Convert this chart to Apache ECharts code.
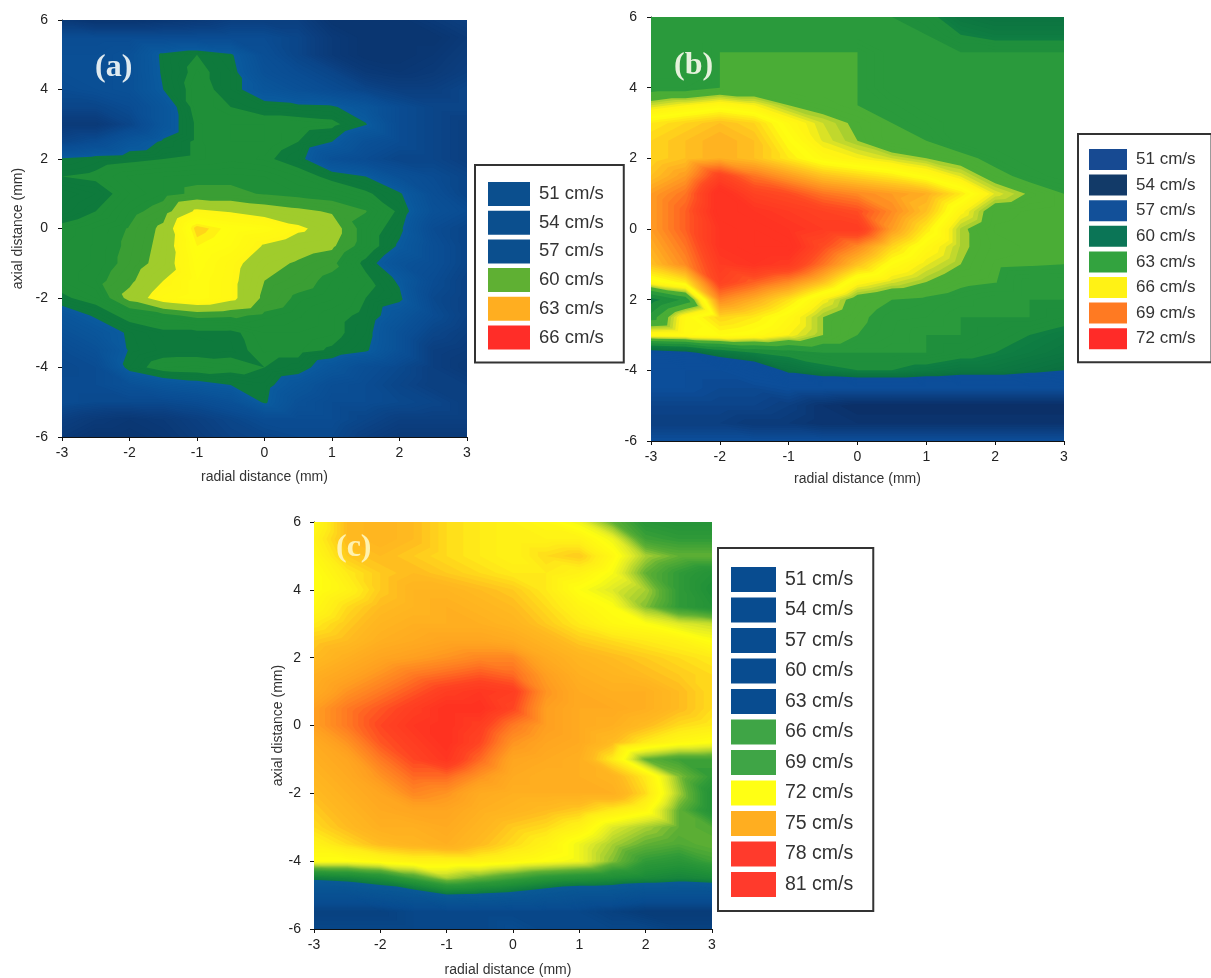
<!DOCTYPE html>
<html><head><meta charset="utf-8">
<style>html,body{margin:0;padding:0;background:#fff}#c{width:1211px;height:978px}</style>
<script src="https://cdn.jsdelivr.net/npm/echarts@6/dist/echarts.min.js"></script>
</head><body><div id="c"></div>
<script>
const radial = [-3,-2.5,-2,-1.5,-1,-0.5,0,0.5,1,1.5,2,2.5,3];
const axial = [6,5.5,5,4.5,4,3.5,3,2.5,2,1.5,1,0.5,0,-0.5,-1,-1.5,-2,-2.5,-3,-3.5,-4,-4.5,-5,-5.5,-6];

const speedA = [
[51,50,50,50.5,51,52,52,52,50,50,50,51,52],
[54,54,54,54,54,54,54,53,51,50,50,50,51],
[54.5,54.5,55,57.3,58,57.2,54.5,53,51,50,50,50.5,51.5],
[54.5,54.5,55,57.2,58.3,57.5,55,54,53,51,50.5,51,52],
[54,54.5,55,57,58.5,57.5,56,55,54,53,52,52,53],
[53,53,54,56,58.5,58,57.5,57.3,57.2,56,54,53,53],
[51,51,53,56,58.2,58.5,58.5,58.5,58.3,57.1,54,53,52],
[53,54,56,57.2,58.2,58.5,58.5,58,57,55,54,53,52],
[57.2,57.6,57.8,58,58.2,58.4,58.2,57.5,55,54,53,53,52],
[58,58.2,58.8,59,59.1,59.1,59,58.5,57.7,57,55,54,53],
[57,57.5,58.5,59,59.4,59.4,59.2,59,58.8,58.2,57.2,54.5,53],
[57.3,58,59,59.6,61.2,60.9,60.5,60.2,59.9,59.3,57.8,55,54],
[58.3,58.8,59.3,60.2,63,62.3,62,61.2,60.5,58.8,57.3,54,53],
[58.5,58.8,59.4,60.3,62.5,62,60.9,60.4,60.15,58.8,56.8,54.5,53],
[58.5,58.8,59.5,60.4,62.2,61.4,60.3,59.9,59.5,57.7,55.5,54.5,53],
[58.5,59,59.8,61,62,61.3,60,59.6,59,58.3,56.8,54,52.5],
[57.8,58.5,60.3,61.6,62,61.3,59.8,59.1,58.8,58,57.3,53.5,52.5],
[56,57.2,58.5,59,59.5,59.4,59.1,58.8,58.3,57.8,56,54,52.5],
[55,56,57.2,57.8,57.8,57.8,58.5,58.5,58.3,57.5,55,53,52],
[54,55,57.1,57.6,57.6,57.7,58.3,58.3,57.9,57.2,55,52,51.5],
[53.5,54,57.5,58.5,58.6,58.4,58,57.6,56,54.5,53.5,52,51],
[54,54,55,56,56.5,57,57.4,56,54.5,54,53,52,52],
[54,53.5,53.5,53.5,54,55,57.2,55,54,54,53.5,53,52],
[52,51,50.5,51,52,53,54,54,54,53,52,52,52],
[51,50,50,50.5,51.5,52.5,53,53.5,53.5,52,51,51,51]
];
const speedB = [
[62,62,62,62,62,62,62,62,61.5,60,59.5,59.5,59.5],
[62,62,62,62,62,62,62,62,62,61,60.5,60.5,60.5],
[62,62,63,63,63,63,63,62,62,62,62,62,62],
[62,62,63,63,63,63,63,62,62,62,62,62,62],
[62.5,62.5,63,63,63,63,63,62,62,62,62,62,62],
[64.5,65,65.5,65,64,63.5,63,62.6,62,62,62,62,62],
[66.5,67,67.5,67,65.5,64.5,63.8,63,62.5,62,62,62,62],
[67,67.5,68,67.5,66,64.7,64,63,63,62,62,62,62],
[67,67.5,68,67.5,66.5,65.5,65,64.5,64,63.5,62.5,62,62],
[67.5,68.5,71,69.5,68.5,67.5,67,66.5,65.7,64.7,63.5,62.5,62],
[68.5,69.5,72.5,71,70.5,69.5,69,68.5,68,66.5,64.7,63.9,63],
[68.5,70,72.5,72,71.5,71,70.5,69,67.5,65.2,63.4,63.2,63],
[68.5,70,72,72.5,72,71.5,71.5,68.5,66.5,64.2,63.2,63.1,63],
[68,69.5,72,72.5,72.5,70.5,69,67,65.5,64.2,63.4,63.2,63],
[67.5,69,71.5,72,71.5,69.5,67.5,65.8,64.8,64,63.2,63.1,63],
[65.5,66.5,71,70,69,67.5,65.3,64.6,64,63.3,63.05,62,62],
[60.5,62.3,69,68,66.7,65,63.5,63,62.8,62.4,62,62,62],
[62.5,65.5,67,66.5,65.5,64,63.2,62.6,62.5,62,62,62,61.5],
[65.5,65.7,66,65.7,65,64,63,62.5,62,62,61.5,61,60.5],
[58,58.5,60,61,61.5,62,62,62,62,61.5,61,60.5,60],
[56,56,56,57,59.5,60.5,61,61,60.5,60,60,59.5,59],
[56,56,55.5,55.5,56,56,56,56,56,56,56,56,56],
[55,55,55,55,54.5,53.5,53,53,53,53,53,53,53],
[54.5,54.5,54.5,54,54,53.5,53.5,53.5,53.5,53.5,53.5,53.5,53.5],
[56,56,56,56,56,56,56,56,56,56,56,56,56]
];
const speedC = [
[71.5,74,74.5,74,73,72.5,72,71.5,70.5,68,66,65.5,65.5],
[72,74,74.5,74,73,72.5,72,72,72,70.5,67,66.5,66.5],
[71.5,73.5,74,73.5,73,72.5,72,73,73.5,71.5,69,68,68],
[71,72.5,73.5,74,73.5,73,72.5,72.5,72,70.8,68,66.5,65.5],
[71,72,73.5,74.5,74.5,74,73.5,72.5,71,70,69,66.5,65],
[71.5,73,74,74.5,75,74.5,74,73,71.8,71,68.5,66.5,65.5],
[72.5,73.5,74.5,75,75,75,74.5,73.5,72.5,71.5,71,70,69.5],
[73.5,74,75,75.5,76,76,75.5,74.5,73.5,73,72.5,72,71],
[74,75,76,76.5,77,77.5,77.5,75.5,74.5,74,73.5,73,72.5],
[75,76,77,78,78.5,79,78.5,76.5,75,74.5,74,73.5,73],
[75.5,77,78,79,80,80.5,80,77,75.5,75,75,74,73],
[76.5,78,79,80,81,81,79.5,76.5,75.5,75.5,75,74,73],
[76.5,78,79.5,80.5,81,80,78,76.5,75.5,75,74,73,72.5],
[75.5,77,79,80,81,79.5,77,76,75.5,74,72.5,71.5,71],
[75,76,78,79.5,80.5,78.5,76,75.5,75,72.5,68,67,67],
[74.5,75.5,77,78.5,78.5,77,75.5,75,75,74.5,72.5,68.5,66.5],
[74,75,76,77.5,77,75.5,75,75,75,75,73,69,65.5],
[73.5,74.5,75.5,76,76,75,74.5,74,73.5,72.5,71.5,68,65.5],
[73,74,75,75,75.5,74.5,73.5,73,72,70,69,68,67.5],
[72,73,74,74.5,75,74,73,72,70.5,69,68,67.5,68],
[71,71,71.5,72,72,72,71.5,71,70.5,68.5,66.5,66,67],
[63.5,64,65,67,69,68,67,66,65.5,65,64.5,64,64.5],
[59,59,60,61,62.8,62.5,62,61,60,60,59,59,59],
[55,55,55,56,56,56,56,56,56,55,54,54,54],
[56,56,56,56,56,56,57,56,56,56,56,55,55]
];

const levelsA = ['51 cm/s','54 cm/s','57 cm/s','60 cm/s','63 cm/s','66 cm/s'];
const levelsB = ['51 cm/s','54 cm/s','57 cm/s','60 cm/s','63 cm/s','66 cm/s','69 cm/s','72 cm/s'];
const levelsC = ['51 cm/s','54 cm/s','57 cm/s','60 cm/s','63 cm/s','66 cm/s','69 cm/s','72 cm/s','75 cm/s','78 cm/s','81 cm/s'];
const swatchA = ['#0b4f8e','#0b4f8e','#0b4f8e','#5fb033','#ffae20','#ff2d28'];
const swatchB = ['#174a92','#123a68','#125099','#0b7556','#33a33f','#fff215','#ff7a22','#ff2b28'];
const swatchC = ['#084c90','#084c90','#084c90','#084c90','#084c90','#3fa546','#3fa546','#ffff14','#ffae20','#ff3a2c','#ff3a2c'];

const rampA = [[50,'#0a3570'],[52,'#0b3f80'],[54,'#0a4c92'],[56.9,'#0a5a9e'],[57,'#0e7a3c'],[57.95,'#0e7a3c'],[58,'#1f8f38'],[59.2,'#1f8f38'],[59.25,'#3a9e34'],[60.05,'#3a9e34'],[60.1,'#a0cc2c'],[60.95,'#a0cc2c'],[61,'#fff514'],[62.5,'#ffff10'],[63.2,'#ffb020']];
const rampB = [[53,'#0b2f66'],[56,'#0c4e9a'],[58.9,'#0c4e9a'],[59,'#0b7040'],[60.9,'#0f7e42'],[61,'#1f8f3c'],[61.9,'#1f8f3c'],[62,'#2a9a3c'],[62.9,'#2a9a3c'],[63,'#4aad36'],[63.9,'#4aad36'],[64,'#9ccb30'],[64.5,'#cddc2c'],[65,'#fff214'],[66,'#ffff10'],[67.5,'#ffc020'],[69,'#ff8a22'],[70.5,'#ff4a22'],[72,'#ff3322']];
const rampC = [[54,'#083c78'],[57,'#084c90'],[62.9,'#0a5a96'],[63,'#0e7a42'],[65,'#1f8f38'],[66.5,'#2f9a38'],[68,'#5fb034'],[69,'#a8d030'],[70,'#e0ea28'],[71,'#ffff10'],[72.5,'#ffec18'],[74,'#ffba20'],[76.5,'#ffa020'],[78,'#ff7a22'],[79.5,'#ff4422'],[81,'#ff3020']];

function hex(c){return [1,3,5].map(i=>parseInt(c.substr(i,2),16));}
function rampColor(ramp,v){
  if(v<=ramp[0][0])return ramp[0][1];
  for(let i=1;i<ramp.length;i++){
    if(v<=ramp[i][0]){
      const t=(v-ramp[i-1][0])/(ramp[i][0]-ramp[i-1][0]);
      const a=hex(ramp[i-1][1]),b=hex(ramp[i][1]);
      return 'rgb('+a.map((x,k)=>Math.round(x+(b[k]-x)*t)).join(',')+')';
    }
  }
  return ramp[ramp.length-1][1];
}
function clipAbove(poly,th){
  const out=[];
  for(let i=0;i<poly.length;i++){
    const p=poly[i],q=poly[(i+1)%poly.length];
    const pin=p[2]>=th,qin=q[2]>=th;
    if(pin)out.push(p);
    if(pin!==qin){
      const t=(th-p[2])/(q[2]-p[2]);
      out.push([p[0]+(q[0]-p[0])*t,p[1]+(q[1]-p[1])*t,th]);
    }
  }
  return out;
}
function cells(speed){
  const out=[];
  for(let j=0;j<axial.length-1;j++)for(let i=0;i<radial.length-1;i++){
    out.push([radial[i],axial[j],radial[i+1],axial[j+1],speed[j][i],speed[j][i+1],speed[j+1][i+1],speed[j+1][i]]);
  }
  return out;
}
const bandStep=0.25;
// Filled contour bands: each band is one path over every cell, painted low to high.
function contourRenderer(cellList,ramp){
  return function(params,api){
    if(params.dataIndex!==0)return null;
    const tris=[];let vmin=1e9,vmax=-1e9;
    cellList.forEach(c=>{
      const a=[c[0],c[1],c[4]],b=[c[2],c[1],c[5]],d=[c[2],c[3],c[6]],e=[c[0],c[3],c[7]];
      tris.push([a,b,d],[a,d,e]);
      vmin=Math.min(vmin,c[4],c[5],c[6],c[7]);vmax=Math.max(vmax,c[4],c[5],c[6],c[7]);
    });
    const children=[];
    const k0=Math.floor(vmin/bandStep),k1=Math.floor(vmax/bandStep);
    for(let k=k0;k<=k1;k++){
      const l=k*bandStep;let d='';let x0=1e9,y0=1e9,x1=-1e9,y1=-1e9;
      tris.forEach(t=>{
        const poly=clipAbove(t,k===k0?-1e9:l);
        if(poly.length<3)return;
        poly.forEach((p,i)=>{
          const s=api.coord([p[0],p[1]]);
          d+=(i?'L':'M')+s[0].toFixed(2)+' '+s[1].toFixed(2);
          x0=Math.min(x0,s[0]);x1=Math.max(x1,s[0]);y0=Math.min(y0,s[1]);y1=Math.max(y1,s[1]);
        });
        d+='Z';
      });
      if(!d)continue;
      children.push({type:'path',shape:{pathData:d,x:x0,y:y0,width:x1-x0,height:y1-y0,layout:'cover'},
        style:{fill:rampColor(ramp,l+bandStep/2)}});
    }
    return {type:'group',children};
  };
}
const fontSans='Liberation Sans';
const panels=[
 {speed:speedA,ramp:rampA,grid:{left:62,top:20,width:405,height:417},yName:'axial distance (mm)',yGap:37,xGap:33,xPad:0,margin:14,
  names:levelsA,sw:swatchA,leg:{left:475,top:165,itemWidth:42,itemHeight:24,itemGap:4.7,font:18.5,padding:[17,20,13,13]}},
 {speed:speedB,ramp:rampB,grid:{left:651,top:17,width:413,height:424},yName:'',yGap:30,xGap:31,xPad:0,margin:14,yLabel:v=>v===-2?'2':String(v),
  names:levelsB,sw:swatchB,leg:{left:1078,top:134,itemWidth:38,itemHeight:21,itemGap:4.6,font:17,padding:[15,16,13,11]}},
 {speed:speedC,ramp:rampC,grid:{left:314,top:522,width:398,height:407},yName:'axial distance (mm)',yGap:28,xGap:34,xPad:10,margin:13,
  names:levelsC,sw:swatchC,leg:{left:718,top:548,itemWidth:45,itemHeight:25,itemGap:5.5,font:19.5,padding:[19,20,14,13]}}
];
const ink='#222';
const grid=[],xAxis=[],yAxis=[],series=[],legend=[];
panels.forEach((p,n)=>{
  const line={onZero:false,lineStyle:{color:'#111',width:1}};
  const tick={length:4,lineStyle:{color:'#111'}};
  const nameStyle={fontFamily:fontSans,fontSize:14,color:'#333'};
  grid.push(Object.assign({outerBoundsMode:'none'},p.grid));
  xAxis.push({type:'value',gridIndex:n,min:-3,max:3,interval:1,name:'radial distance (mm)',nameLocation:'middle',nameGap:p.xGap,
    nameTextStyle:Object.assign({padding:[0,p.xPad,0,0]},nameStyle),axisLine:line,axisTick:tick,
    axisLabel:{fontFamily:fontSans,fontSize:14,color:ink,margin:9},splitLine:{show:false}});
  yAxis.push({type:'value',gridIndex:n,min:-6,max:6,interval:2,name:p.yName,nameLocation:'middle',nameGap:p.yGap,
    nameTextStyle:nameStyle,axisLine:line,axisTick:tick,
    axisLabel:{fontFamily:fontSans,fontSize:14,color:ink,margin:p.margin,formatter:p.yLabel||undefined},splitLine:{show:false}});
  const list=cells(p.speed);
  series.push({type:'custom',xAxisIndex:n,yAxisIndex:n,silent:true,clip:true,
    renderItem:contourRenderer(list,p.ramp),data:list,animation:false,encode:{x:[0,2],y:[1,3]}});
  legend.push({orient:'vertical',left:p.leg.left,top:p.leg.top,itemWidth:p.leg.itemWidth,itemHeight:p.leg.itemHeight,
    itemGap:p.leg.itemGap,padding:p.leg.padding,selectedMode:false,backgroundColor:'#fff',borderColor:'#333',borderWidth:2,
    textStyle:{fontFamily:fontSans,fontSize:p.leg.font,color:'#333',padding:[0,0,0,4]},
    data:p.names.map((nm,k)=>({name:nm,icon:'rect',itemStyle:{color:p.sw[k]}}))});
});
levelsC.forEach(nm=>series.push({type:'custom',name:nm,coordinateSystem:'none',renderItem:function(){return null;},data:[]}));
const chart=echarts.init(document.getElementById('c'),null,{renderer:'canvas'});
chart.setOption({animation:false,backgroundColor:'#fff',grid,xAxis,yAxis,series,legend,
 title:[
  {text:'(a)',left:90,top:47,textStyle:{fontFamily:'Liberation Serif',fontWeight:'bold',fontSize:32,color:'#dfeaf0'}},
  {text:'(b)',left:669,top:45,textStyle:{fontFamily:'Liberation Serif',fontWeight:'bold',fontSize:32,color:'#e6f2dc'}},
  {text:'(c)',left:331,top:527,textStyle:{fontFamily:'Liberation Serif',fontWeight:'bold',fontSize:32,color:'#fff2b0'}}
 ]});
</script></body></html>
